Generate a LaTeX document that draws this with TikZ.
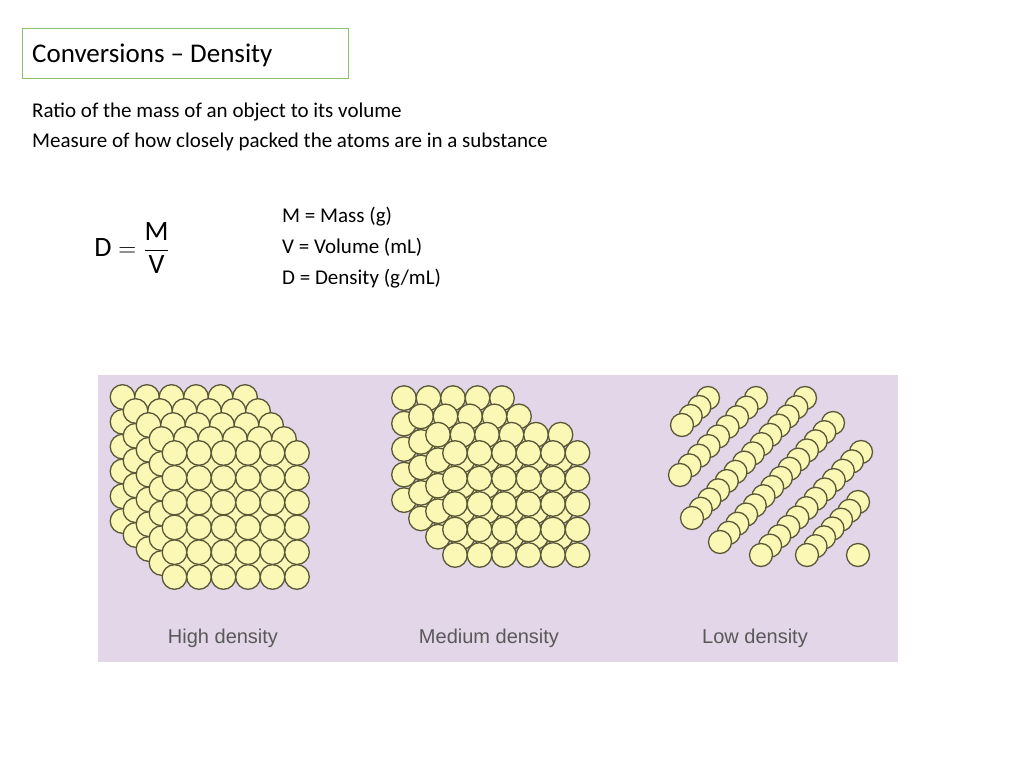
\documentclass[tikz,border=0pt]{standalone}
\usepackage{fontspec}
\setmainfont{Carlito}
\newfontfamily\lab{Liberation Sans}
\begin{document}
\begin{tikzpicture}[x=1pt,y=-1pt,
  ball/.style={fill=ballc,draw=ballline,line width=1.3pt},
  txt/.style={anchor=base west,font=\fontsize{21}{24}\selectfont,inner sep=0pt},
  lbl/.style={font=\lab\fontsize{20}{22}\selectfont,text=gray!70!black,anchor=base}]
\definecolor{ballc}{HTML}{FAF8B4}
\definecolor{ballline}{HTML}{5A5838}
\definecolor{bg}{HTML}{E2D6E8}
\definecolor{boxc}{HTML}{8CBF6A}
\useasboundingbox (0,0) rectangle (1024,768);
\node[draw=boxc,line width=1pt,minimum width=326pt,minimum height=50pt,anchor=north west,inner sep=0pt] (tb) at (22,28) {};
\node[anchor=base west,font=\fontsize{27}{30}\selectfont,inner sep=0pt] (title) at (32,63) {Conversions -- Density};
\node[txt] (l1) at (32,117) {Ratio of the mass of an object to its volume};
\node[txt] (l2) at (32,147) {Measure of how closely packed the atoms are in a substance};
\node[font=\fontsize{28}{30}\selectfont] (eq) at (132,248) {$\mathrm{D}=\displaystyle\frac{\mathrm{M}}{\mathrm{V}}$};
\node[txt] (m1) at (282,222) {M = Mass (g)};
\node[txt] (m2) at (282,253) {V = Volume (mL)};
\node[txt] (m3) at (282,284) {D = Density (g/mL)};
\fill[bg] (98,375) rectangle (898,662);
% high density
\foreach \k in {4,3,2,1,0}{
  \foreach \i in {0,...,5}{\foreach \j in {0,...,5}{
    \draw[ball] (174.5+24.5*\i-13*\k,453+24.8*\j-14*\k) circle (12.3);}}}
% medium density
\foreach \k in {3,2,1,0}{
  \pgfmathsetmacro{\nc}{\k==0?5:(\k==1?5:4)}
  \foreach \i in {0,...,\nc}{\foreach \j in {0,...,4}{
    \draw[ball] (455+24.5*\i-17*\k,453+25.5*\j-18.3*\k) circle (12.3);}}}
% low density
\foreach \sx/\sy/\ex/\ey in {708/398/682/425, 756/398/680/475, 805/398/692/518, 833/423/720/542, 861/452/761/555, 858/502/807/555}{
  \pgfmathsetmacro{\n}{int(round(veclen(\ex-\sx,\ey-\sy)/13))}
  \foreach \t in {0,...,\n}{
    \draw[ball] ({\sx+(\ex-\sx)*\t/\n},{\sy+(\ey-\sy)*\t/\n}) circle (11.5);}}
\draw[ball] (858,555) circle (11.5);
\node[lbl] (hd) at (223,643) {High density};
\node[lbl] (md) at (489,643) {Medium density};
\node[lbl] (ld) at (755,643) {Low density};
\end{tikzpicture}
\end{document}
